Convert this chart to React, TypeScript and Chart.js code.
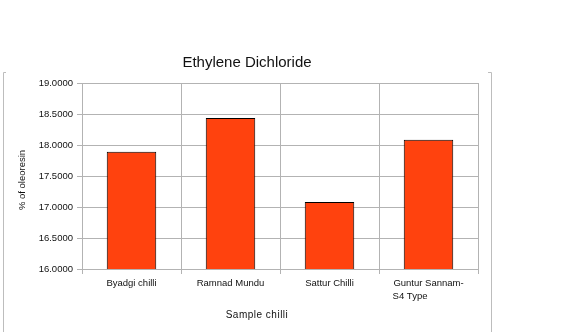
import React, { useEffect, useRef } from "react";
import { Chart, registerables } from "chart.js";

Chart.register(...registerables);

const chartTitle = "Ethylene Dichloride";
const xAxisTitle = "Sample chilli";
const yAxisTitle = "% of oleoresin";
const categories: (string | string[])[] = [
  "Byadgi chilli",
  "Ramnad Mundu",
  "Sattur Chilli",
  ["Guntur Sannam-", "S4 Type              "],
];
const oleoresinValues = [17.89, 18.435, 17.08, 18.085];
const yMin = 16;
const yMax = 19;
const yStep = 0.5;

const FONT = "'Liberation Sans', Arial, sans-serif";
const GRID = "#b3b3b3";

const decorPlugin = {
  id: "decor",
  beforeDraw(chart: any) {
    const ctx = chart.ctx;
    ctx.save();
    ctx.strokeStyle = "#bdbdbd";
    ctx.lineWidth = 1;
    ctx.beginPath();
    ctx.moveTo(6, 72.5);
    ctx.lineTo(3.5, 72.5);
    ctx.lineTo(3.5, 332);
    ctx.moveTo(488, 72.5);
    ctx.lineTo(491.5, 72.5);
    ctx.lineTo(491.5, 332);
    ctx.stroke();
    ctx.restore();
  },
  afterDraw(chart: any) {
    const ctx = chart.ctx;
    ctx.save();
    ctx.fillStyle = "#111";
    ctx.textAlign = "center";
    ctx.textBaseline = "middle";
    ctx.font = `10px ${FONT}`;
    try { (ctx as any).letterSpacing = "0.5px"; } catch (e) {}
    ctx.fillText(xAxisTitle, 257, 315);
    try { (ctx as any).letterSpacing = "0px"; } catch (e) {}
    ctx.translate(22, 180);
    ctx.rotate(-Math.PI / 2);
    ctx.font = `9.5px ${FONT}`;
    ctx.fillText(yAxisTitle, 0, 0);
    ctx.restore();
  },
};

export default function App() {
  const ref = useRef<HTMLCanvasElement | null>(null);
  useEffect(() => {
    if (!ref.current) return;
    const chart = new Chart(ref.current, {
      type: "bar",
      data: {
        labels: categories,
        datasets: [
          {
            data: oleoresinValues,
            backgroundColor: "#ff420e",
            borderColor: "#000000",
            borderWidth: 1,
            borderSkipped: false,
            barPercentage: 0.5,
            categoryPercentage: 1,
            yAxisID: "y",
          },
        ],
      },
      options: {
        animation: false,
        responsive: false,
        maintainAspectRatio: false,
        layout: { padding: { left: 3, right: 78, top: 0, bottom: 0 } },
        plugins: {
          legend: { display: false },
          tooltip: { enabled: false },
          title: {
            display: true,
            text: chartTitle,
            color: "#111",
            font: { family: FONT, size: 15, weight: "normal" },
            padding: { top: 53.5, bottom: 11.5 },
          },
        },
        scales: {
          x: {
            grid: { color: GRID, tickLength: 5, offset: true },
            border: { color: GRID },
            ticks: {
              color: "#111",
              font: { family: FONT, size: 9.5, lineHeight: 1.35 },
              padding: 3,
              maxRotation: 0,
              autoSkip: false,
            },
            afterFit: (s: any) => {
              s.height = 63;
            },
          },
          y: {
            position: "left",
            min: yMin,
            max: yMax,
            grid: { color: GRID, tickLength: 5 },
            border: { color: GRID },
            ticks: {
              stepSize: yStep,
              color: "#111",
              font: { family: FONT, size: 9.5 },
              padding: 4,
              callback: (v: any) => Number(v).toFixed(4),
            },
            afterFit: (s: any) => {
              s.width = 79;
            },
          },
          y2: {
            position: "right",
            display: true,
            grid: { display: false, drawTicks: false },
            border: { display: false },
            ticks: { display: false },
            afterFit: (s: any) => {
              s.width = 13;
            },
          },
        },
      },
      plugins: [decorPlugin],
    });
    return () => chart.destroy();
  }, []);
  return (
    <div style={{ position: "fixed", left: 0, top: 0, width: 569, height: 332, background: "#fff" }}>
      <canvas ref={ref} width={569} height={332} style={{ display: "block" }} />
    </div>
  );
}
